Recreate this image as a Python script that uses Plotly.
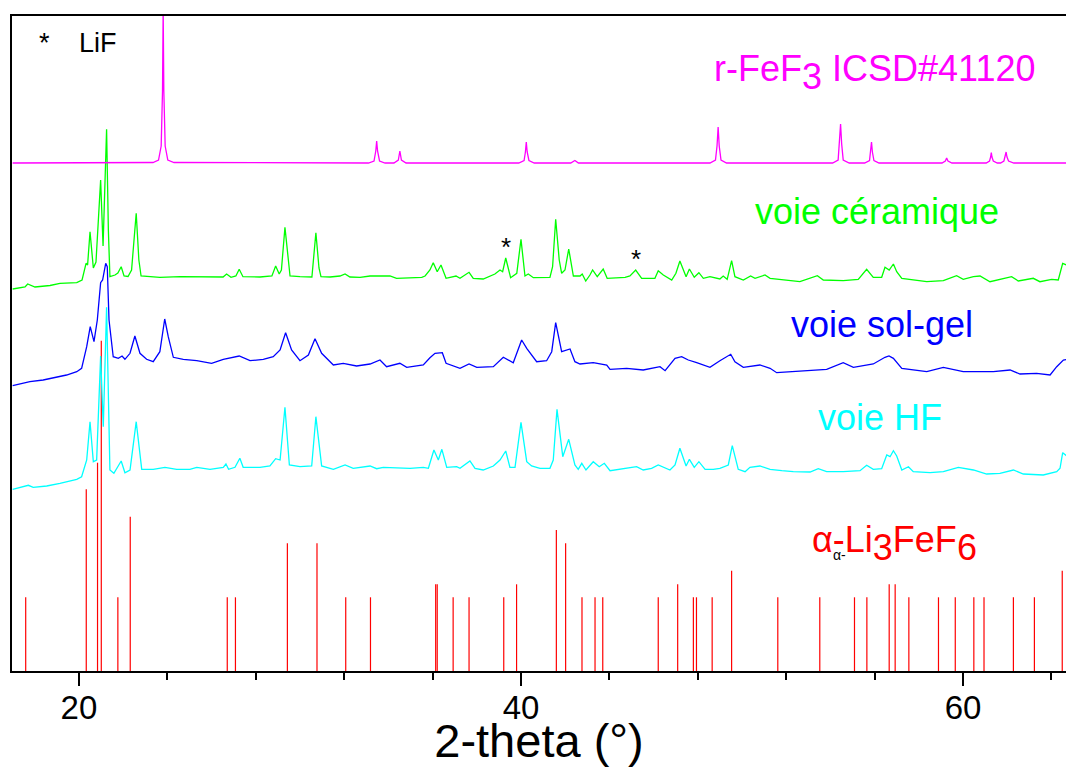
import plotly.graph_objects as go

# ---------------- data (2-theta in degrees, intensity in arbitrary stacked units) ----------------
fef3_2theta = [17.0, 23.35, 23.6, 23.72, 23.78, 23.81, 23.84, 23.9, 24.02, 24.3,
               33.1, 33.35, 33.43, 33.47, 33.51, 33.6, 33.85,
               34.25, 34.45, 34.52, 34.59, 34.8,
               39.9, 40.14, 40.2, 40.24, 40.28, 40.36, 40.6,
               42.25, 42.44, 42.6,
               48.55, 48.8, 48.87, 48.92, 48.97, 49.05, 49.3,
               54.1, 54.35, 54.41, 54.46, 54.51, 54.58, 54.85,
               55.55, 55.77, 55.82, 55.86, 55.9, 55.97, 56.2,
               59.05, 59.2, 59.26, 59.32, 59.5,
               61.05, 61.2, 61.25, 61.28, 61.31, 61.37, 61.55,
               61.7, 61.85, 61.91, 61.95, 61.99, 62.06, 62.3, 64.7]
fef3_int = [508, 508.5, 511, 525, 580, 662, 580, 525, 511, 508.5,
            508, 510, 520, 530, 520, 510, 508,
            508, 511, 520, 511, 508,
            508, 510.5, 519, 529, 519, 510.5, 508,
            508, 510.5, 508,
            508, 511, 525, 544, 525, 511, 508,
            508, 511, 527, 547, 527, 511, 508,
            508, 510.5, 519, 529, 519, 510.5, 508,
            508, 510, 513, 510, 508,
            508, 510, 514, 518.5, 514, 510, 508,
            508, 510, 514, 519, 514, 510, 508, 508]

ceram_2theta = [17.0, 17.56, 17.68, 18.01, 18.69, 19.14, 19.9, 20.14, 20.32, 20.39, 20.5, 20.65,
                20.77, 20.98, 21.09, 21.25, 21.33, 21.4, 21.63, 21.76, 21.91, 22.04, 22.22, 22.38,
                22.59, 22.71, 22.81, 23.66, 24.57, 25.47, 26.52, 26.68, 26.88, 27.1, 27.25, 27.42,
                28.19, 28.73, 28.9, 29.06, 29.16, 29.32, 29.46, 29.55, 30.0, 30.54, 30.72, 30.86,
                30.95, 31.36, 31.81, 32.04, 32.26, 32.72, 33.17, 34.07, 34.37, 35.51, 35.66, 35.88,
                36.03, 36.21, 36.38, 36.61, 37.06, 37.24, 37.65, 37.84, 38.29, 38.82, 39.05, 39.17,
                39.31, 39.53, 39.81, 40.0, 40.18, 40.33, 40.56, 41.31, 41.43, 41.57, 41.73, 41.84,
                41.99, 42.16, 42.37, 42.67, 42.77, 42.93, 43.12, 43.24, 43.45, 43.72, 43.9, 44.71,
                44.93, 45.19, 45.46, 46.06, 46.21, 46.44, 46.82, 47.01, 47.19, 47.47, 47.62, 47.84,
                48.05, 48.25, 48.55, 49.0, 49.15, 49.33, 49.53, 49.68, 50.06, 50.39, 50.59, 51.04,
                51.27, 51.87, 52.62, 53.41, 53.68, 54.58, 55.26, 55.64, 55.94, 56.32, 56.47, 56.66,
                56.85, 57.0, 57.23, 58.36, 59.11, 59.71, 60.01, 60.47, 60.77, 61.22, 62.2, 62.5,
                63.18, 63.48, 64.01, 64.31, 64.51, 64.69]
ceram_int = [382, 384, 387, 384, 385.5, 387.7, 388.3, 391, 407.7, 406, 439.3, 403,
             409, 491, 425, 541.7, 441, 394.3, 396, 398, 404.3, 395, 394.5, 401,
             457.7, 411, 395, 393.7, 394.3, 394, 394, 397, 393.7, 395, 401.7, 394.3,
             394, 395, 405, 397, 401, 443.7, 409, 395, 394.3, 394, 438.3, 403,
             394.3, 394, 395, 397, 394, 393.7, 395, 395, 392.7, 393.7, 395, 401,
             408.3, 399.3, 406, 392.7, 395, 392.7, 398.7, 392.7, 392, 397, 401, 399.3,
             413, 393.3, 397.7, 431.7, 395, 397, 393.3, 393.7, 404.3, 451.7, 411, 397.7,
             401, 422, 395, 395, 397, 390, 396, 401, 394.3, 402, 392.7, 393.7,
             395, 401, 392.7, 392.7, 400.3, 396, 391, 397.7, 410, 394.3, 402, 393.7,
             398.3, 392.7, 394.3, 392, 395, 391.7, 410.3, 394.3, 391, 395, 392.7, 396,
             392.7, 391, 389.3, 395.3, 391, 390.3, 391.7, 401.7, 393.7, 393.7, 403.7, 401,
             407, 399.3, 392.7, 389.3, 390.3, 395.3, 391.7, 394.3, 395, 389.3, 394.3, 390,
             392.7, 389.3, 391.7, 391, 407.7, 406]

solgel_2theta = [17.0, 17.48, 17.78, 18.38, 18.99, 19.44, 19.9, 20.12, 20.35, 20.51, 20.68, 20.83,
                 20.98, 21.07, 21.21, 21.28, 21.36, 21.55, 21.78, 21.95, 22.08, 22.31, 22.53, 22.76,
                 23.06, 23.36, 23.66, 23.88, 24.04, 24.27, 24.72, 25.33, 26.0, 26.53, 27.25, 27.74,
                 28.34, 28.79, 29.1, 29.35, 29.62, 30.0, 30.38, 30.68, 30.98, 31.51, 31.96, 32.56,
                 33.17, 33.62, 33.92, 34.52, 34.83, 35.58, 35.88, 36.11, 36.44, 36.61, 37.24, 37.65,
                 38.0, 38.75, 39.2, 39.65, 40.03, 40.26, 40.71, 41.16, 41.39, 41.57, 41.84, 42.22,
                 42.44, 42.67, 43.27, 43.88, 44.03, 44.78, 45.53, 46.29, 46.52, 46.97, 47.27, 47.57,
                 47.95, 48.55, 49.0, 49.49, 49.68, 50.06, 50.81, 51.27, 51.57, 52.32, 53.08, 53.83,
                 54.58, 55.04, 55.94, 56.47, 56.65, 56.85, 57.23, 58.36, 59.11, 60.01, 61.37, 62.13,
                 62.58, 63.33, 63.94, 64.24, 64.54, 64.76]
solgel_int = [285.3, 287.7, 289.3, 291, 294.3, 296, 299.3, 302.7, 324.3, 344.3, 329.3, 351,
              388.3, 391, 407.7, 404.3, 351, 314.3, 312.7, 315, 311.7, 317.7, 335, 317.7,
              311.7, 309.3, 319.3, 352, 334.3, 313.7, 311.7, 310.3, 307.7, 311.7, 315, 310.3,
              311.7, 314.3, 321, 338.3, 321, 310.3, 316, 332.3, 317.7, 306, 307.7, 305,
              307, 311, 304.3, 307.7, 303.7, 306, 313.3, 317.7, 318.3, 307.7, 302.7, 307,
              303.7, 304.3, 313.7, 308.3, 331, 322.7, 309.3, 310.3, 319.3, 348.3, 319.3, 322,
              309.3, 307, 308.3, 306, 301.7, 302.7, 301, 304.3, 300.3, 312.7, 314.3, 311,
              308.3, 303.7, 310.3, 316.7, 309.3, 303.7, 306, 302.7, 298.3, 299.3, 301, 301.7,
              308.3, 303.7, 307, 313.7, 315, 312.7, 302.7, 299.3, 303.7, 299.3, 299.3, 301,
              297, 297.7, 296, 304.3, 311, 311.7]

hf_2theta = [17.0, 17.71, 17.93, 18.54, 19.14, 19.9, 20.12, 20.35, 20.5, 20.65, 20.8, 20.98,
             21.1, 21.25, 21.4, 21.58, 21.91, 22.08, 22.31, 22.59, 22.84, 23.36, 23.89, 24.42,
             25.02, 25.33, 25.93, 26.53, 26.65, 26.77, 27.06, 27.28, 27.43, 28.19, 28.64, 28.9,
             29.1, 29.32, 29.52, 30.0, 30.53, 30.72, 30.98, 31.51, 32.04, 32.41, 33.17, 33.47,
             33.77, 34.22, 34.52, 34.98, 35.58, 35.81, 36.06, 36.26, 36.42, 36.64, 37.09, 37.24,
             37.69, 37.92, 38.29, 38.75, 39.05, 39.31, 39.5, 39.73, 40.0, 40.26, 40.48, 40.86,
             41.31, 41.46, 41.63, 41.89, 42.16, 42.44, 42.59, 42.75, 42.94, 43.27, 43.54, 43.77,
             44.03, 44.78, 45.23, 45.53, 45.91, 46.21, 46.74, 46.97, 47.19, 47.47, 47.62, 47.84,
             48.05, 48.33, 48.7, 49.0, 49.38, 49.56, 49.83, 50.14, 50.36, 50.81, 51.27, 51.8,
             52.32, 53.08, 53.45, 53.83, 54.58, 55.34, 55.64, 55.94, 56.32, 56.55, 56.7, 56.85,
             57.0, 57.23, 57.53, 57.75, 58.51, 59.11, 59.79, 60.47, 61.07, 61.67, 62.28, 62.73,
             63.63, 64.24, 64.39, 64.51, 64.69]
hf_int = [181.7, 185.7, 183.7, 185, 187.7, 191.7, 194.3, 211, 249.3, 209.3, 211, 315,
          244.3, 363.7, 201, 197.7, 210, 198.3, 201, 249.3, 201.7, 201.7, 203.7, 201.7,
          201.7, 203.7, 201.7, 203.7, 207, 201.7, 203.7, 212.7, 203.7, 203.7, 205, 212.3,
          211, 263.7, 206, 204.3, 205, 254.3, 205, 201.7, 206, 202.7, 205, 202.3,
          203.7, 203.3, 202.7, 202.7, 203.7, 202.7, 221, 211, 221.7, 203.7, 204.3, 202.7,
          210, 202.7, 201, 205, 211, 220, 203.7, 203.7, 248.7, 209.3, 205, 202.7,
          202.7, 211, 261.7, 214.3, 231.7, 206, 201.7, 207.7, 201, 209.3, 204.3, 207.7,
          200.3, 202.7, 204.3, 201, 202.7, 206, 201, 206, 222.7, 205, 211.7, 203.7,
          209.3, 201.7, 201.7, 202.7, 206, 225.3, 201.7, 199.3, 203.7, 205, 201.7, 200.3,
          199.3, 199, 202.3, 199.3, 199.3, 200.3, 205.7, 201.7, 202.3, 216, 214.3, 220.3,
          215, 201, 204.3, 199.3, 198.3, 199.3, 203.7, 201, 197, 197.7, 201, 197,
          196, 199.3, 202.7, 218.3, 215]

li3fef6_2theta = [17.59, 20.33, 20.84, 21.01, 21.76, 22.32, 26.71, 27.08, 29.43, 30.77, 32.07, 33.19,
                  36.14, 36.21, 36.93, 37.65, 39.22, 39.8, 41.6, 42.02, 42.76, 43.35, 43.7, 46.21,
                  47.09, 47.8, 47.94, 48.65, 49.53, 51.62, 53.52, 55.09, 55.65, 56.66, 56.93, 57.55,
                  58.89, 59.65, 60.49, 60.95, 62.28, 63.23, 64.49]
li3fef6_int = [73.7, 181.7, 208.3, 330.3, 73.7, 154.3, 73.7, 73.7, 127.7, 127.7, 73.7, 73.7,
               86.7, 86.7, 73.7, 73.7, 73.7, 86.7, 141, 127.7, 73.7, 73.7, 73.7, 73.7,
               86.7, 73.7, 73.7, 73.7, 100.3, 73.7, 73.7, 73.7, 73.7, 86.7, 86.7, 73.7,
               73.7, 73.7, 73.7, 73.7, 73.7, 73.7, 100.3]

lif_marker_2theta = [39.31, 45.19]
lif_marker_int = [424, 412]

x_range = [16.97, 64.66]
y_range = [0, 655]
x_ticks = [20, 40, 60]

FONT = "Liberation Sans, Arial, sans-serif"

# ---------------- figure ----------------
fig = go.Figure()

# reference stick pattern (alpha-Li3FeF6)
stick_x, stick_y = [], []
for p, h in zip(li3fef6_2theta, li3fef6_int):
    stick_x += [p, p, None]
    stick_y += [0, h, None]
fig.add_trace(go.Scatter(x=stick_x, y=stick_y, mode="lines",
                         line=dict(color="#FF0000", width=1.2), hoverinfo="skip"))

fig.add_trace(go.Scatter(x=hf_2theta, y=hf_int, mode="lines",
                         line=dict(color="#00FFFF", width=1.3)))
fig.add_trace(go.Scatter(x=solgel_2theta, y=solgel_int, mode="lines",
                         line=dict(color="#0000FF", width=1.3)))
fig.add_trace(go.Scatter(x=ceram_2theta, y=ceram_int, mode="lines",
                         line=dict(color="#00FF00", width=1.3)))
fig.add_trace(go.Scatter(x=fef3_2theta, y=fef3_int, mode="lines",
                         line=dict(color="#FF00FF", width=1.3)))

anns = []
def txt(x, y, s, color, size, xanchor="left"):
    anns.append(dict(x=x, y=y, xref="x", yref="y", text=s, showarrow=False,
                     xanchor=xanchor, yanchor="middle",
                     font=dict(family=FONT, size=size, color=color)))

txt(18.42, 628, "*", "black", 27, "center")
txt(19.93, 628, "LiF", "black", 27)
for xm, ym in zip(lif_marker_2theta, lif_marker_int):
    txt(xm, ym, "*", "black", 26, "center")

sub = lambda d, sz: '<sub><span style="font-size:%dpx">%s</span></sub>' % (sz, d)
txt(48.64, 599, "r-FeF" + sub("3", 36) + " ICSD#41120", "#FF00FF", 36)
txt(50.48, 460, "voie céramique", "#00FF00", 36)
txt(52.13, 347, "voie sol-gel", "#0000FF", 36)
txt(53.35, 254, "voie HF", "#00FFFF", 36)
txt(53.06, 128, "α-Li" + sub("3", 36) + "FeF" + sub("6", 36), "#FF0000", 36)
txt(54.03, 116, "α-", "black", 14)

fig.update_layout(
    width=1066, height=767,
    margin=dict(l=12, r=0, t=16, b=96),
    paper_bgcolor="white", plot_bgcolor="white",
    showlegend=False,
    annotations=anns,
    xaxis=dict(range=x_range, tickvals=x_ticks, ticks="outside", ticklen=13, tickwidth=2,
               tickcolor="black", showline=True, linewidth=2, linecolor="black", mirror=True,
               showgrid=False, zeroline=False, automargin=False, ticklabelstandoff=-7,
               tickfont=dict(family=FONT, size=33, color="black"),
               minor=dict(dtick=4, tick0=0, ticks="outside", ticklen=7, tickwidth=2,
                          tickcolor="black", showgrid=False),
               title=dict(text="2-theta (°)", standoff=18,
                          font=dict(family=FONT, size=47, color="black"))),
    yaxis=dict(range=y_range, showticklabels=False, ticks="", showline=True, linewidth=2,
               linecolor="black", mirror=False, showgrid=False, zeroline=False,
               automargin=False),
)

# remove the default page margin so the figure fills the window exactly
fig.write_html("out.html",
               config={"displayModeBar": False},
               post_script="document.body.style.margin='0';"
                           "document.documentElement.style.overflow='hidden';"
                           "document.body.style.overflow='hidden';")
